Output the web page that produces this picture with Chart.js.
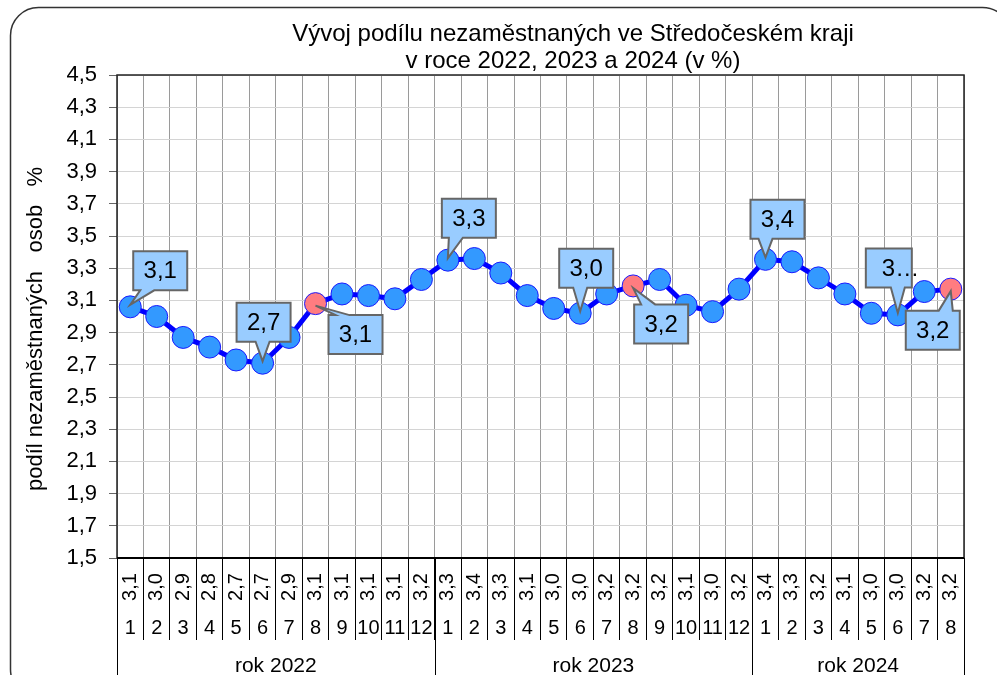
<!DOCTYPE html>
<html>
<head>
<meta charset="utf-8">
<script src="https://cdn.jsdelivr.net/npm/chart.js@4.4.1/dist/chart.umd.min.js"></script>
<style>
  html, body { margin: 0; padding: 0; background: #fff; overflow: hidden; }
  #wrap { position: relative; width: 997px; height: 675px; }
</style>
</head>
<body>
<div id="wrap"><canvas id="chart"></canvas></div>
<script>
// data
const months = ["1","2","3","4","5","6","7","8","9","10","11","12",
                "1","2","3","4","5","6","7","8","9","10","11","12",
                "1","2","3","4","5","6","7","8"];
const shares = [3.06, 3.00, 2.87, 2.81, 2.73, 2.71, 2.87, 3.08, 3.14, 3.13, 3.11, 3.23,
                3.35, 3.36, 3.27, 3.13, 3.05, 3.02, 3.14, 3.19, 3.23, 3.07, 3.03, 3.17,
                3.355, 3.34, 3.24, 3.14, 3.02, 3.01, 3.155, 3.17];
const tableVals = ["3,1","3,0","2,9","2,8","2,7","2,7","2,9","3,1","3,1","3,1","3,1","3,2",
                   "3,3","3,4","3,3","3,1","3,0","3,0","3,2","3,2","3,2","3,1","3,0","3,2",
                   "3,4","3,3","3,2","3,1","3,0","3,0","3,2","3,2"];
const yearLabels = ["rok 2022", "rok 2023", "rok 2024"];
const yearCounts = [12, 12, 8];
const highlighted = [7, 19, 31];
const calloutIdx = [0, 5, 7, 12, 17, 19, 24, 29, 31];
const calloutText = ["3,1", "2,7", "3,1", "3,3", "3,0", "3,2", "3,4", "3…", "3,2"];

const FONT = "'Liberation Sans', Arial, sans-serif";

// callout box offsets (box centre relative to the point) and widths
const calloutLayout = [
  {dx: 30, dy: -36}, {dx: 1, dy: -41}, {dx: 40, dy: 31},
  {dx: 21, dy: -42}, {dx: 6, dy: -45}, {dx: 28, dy: 38},
  {dx: 12, dy: -40}, {dx: -9, dy: -47, w: 46, left: true}, {dx: -18, dy: 41}
];

const pointColors = shares.map((v, i) => highlighted.includes(i) ? '#FF7C80' : '#3399FF');

const decor = {
  id: 'decor',
  beforeDraw(chart) {
    const ctx = chart.ctx;
    ctx.save();
    ctx.fillStyle = '#fff';
    ctx.fillRect(0, 0, chart.width, chart.height);
    ctx.strokeStyle = '#333';
    ctx.lineWidth = 1.5;
    ctx.beginPath();
    ctx.roundRect(10.5, 7.5, 1000, 690, 28);
    ctx.stroke();
    ctx.restore();
  },
  afterDraw(chart) {
    const ctx = chart.ctx;
    const a = chart.chartArea;
    const x = chart.scales.x;
    ctx.save();

    // title
    ctx.fillStyle = '#000';
    ctx.font = '24px ' + FONT;
    ctx.textAlign = 'center';
    ctx.textBaseline = 'alphabetic';
    ctx.fillText('Vývoj podílu nezaměstnaných ve Středočeském kraji', 573, 41);
    ctx.fillText('v roce 2022, 2023 a 2024 (v %)', 573, 68);

    // y axis title
    ctx.save();
    ctx.translate(36, 329);
    ctx.rotate(-Math.PI / 2);
    ctx.font = '22px ' + FONT;
    ctx.textBaseline = 'middle';
    ctx.fillText('podíl nezaměstnaných   osob   %', 0, 0);
    ctx.restore();

    // plot frame
    ctx.strokeStyle = '#222';
    ctx.lineWidth = 1.5;
    ctx.strokeRect(a.left, a.top, a.right - a.left, a.bottom - a.top);
    ctx.lineWidth = 2;
    ctx.strokeStyle = '#000';
    ctx.beginPath();
    ctx.moveTo(a.left, a.bottom);
    ctx.lineTo(a.right, a.bottom);
    ctx.stroke();

    // table under the axis
    ctx.fillStyle = '#000';
    months.forEach((m, i) => {
      const cx = x.getPixelForValue(i);
      ctx.save();
      ctx.translate(cx, 587);
      ctx.rotate(-Math.PI / 2);
      ctx.font = '20px ' + FONT;
      ctx.textAlign = 'center';
      ctx.textBaseline = 'middle';
      ctx.fillText(tableVals[i], 0, 0);
      ctx.restore();
      ctx.font = '20px ' + FONT;
      ctx.textAlign = 'center';
      ctx.textBaseline = 'middle';
      ctx.fillText(m, cx, 628);
    });
    const step = (a.right - a.left) / months.length;
    let start = 0;
    ctx.lineWidth = 1;
    ctx.strokeStyle = '#000';
    const bounds = [0];
    yearCounts.forEach((c, g) => {
      const x0 = a.left + start * step;
      const x1 = a.left + (start + c) * step;
      ctx.font = '21px ' + FONT;
      ctx.textAlign = 'center';
      ctx.textBaseline = 'alphabetic';
      ctx.fillText(yearLabels[g], (x0 + x1) / 2, 672);
      start += c;
      bounds.push(start);
    });
    bounds.forEach(b => {
      const bx = Math.round(a.left + b * step) + 0.5;
      ctx.beginPath();
      ctx.moveTo(bx, a.bottom);
      ctx.lineTo(bx, chart.height);
      ctx.stroke();
    });

    // callouts
    const meta = chart.getDatasetMeta(0);
    calloutIdx.forEach((idx, k) => {
      const pt = meta.data[idx];
      const lay = calloutLayout[k];
      const w = lay.w || 54, h = 39;
      const cx = pt.x + lay.dx, cy = pt.y + lay.dy;
      const L = cx - w / 2, R = cx + w / 2, T = cy - h / 2, B = cy + h / 2;
      const bx = Math.min(Math.max(pt.x, L + 14), R - 14);
      ctx.beginPath();
      if (cy < pt.y) {
        ctx.moveTo(L, T); ctx.lineTo(R, T); ctx.lineTo(R, B);
        ctx.lineTo(bx + 7, B); ctx.lineTo(pt.x, pt.y - 2); ctx.lineTo(bx - 7, B);
        ctx.lineTo(L, B);
      } else {
        ctx.moveTo(L, T); ctx.lineTo(bx - 7, T); ctx.lineTo(pt.x, pt.y + 2);
        ctx.lineTo(bx + 7, T); ctx.lineTo(R, T); ctx.lineTo(R, B); ctx.lineTo(L, B);
      }
      ctx.closePath();
      ctx.fillStyle = '#99CCFF';
      ctx.fill();
      ctx.strokeStyle = '#666';
      ctx.lineWidth = 2;
      ctx.stroke();
      ctx.fillStyle = '#000';
      ctx.font = '24px ' + FONT;
      ctx.textBaseline = 'middle';
      if (lay.left) {
        ctx.textAlign = 'left';
        ctx.fillText(calloutText[k], L + 16, cy + 1);
      } else {
        ctx.textAlign = 'center';
        ctx.fillText(calloutText[k], cx, cy + 1);
      }
    });
    ctx.restore();
  }
};

new Chart(document.getElementById('chart'), {
  type: 'line',
  data: {
    labels: months,
    datasets: [{
      data: shares,
      borderColor: '#0000FF',
      borderWidth: 5,
      tension: 0,
      pointRadius: 11,
      pointHoverRadius: 11,
      pointBackgroundColor: pointColors,
      pointBorderColor: '#1a1aff',
      pointBorderWidth: 1
    }]
  },
  options: {
    responsive: true,
    maintainAspectRatio: false,
    animation: false,
    layout: { padding: { top: 75, right: 33, left: 0, bottom: 0 } },
    plugins: {
      legend: { display: false },
      title: { display: false },
      tooltip: { enabled: false }
    },
    scales: {
      x: {
        offset: true,
        grid: { offset: true, color: '#9a9a9a', tickColor: '#000', tickLength: 82, lineWidth: 1 },
        border: { display: false },
        ticks: { display: false },
        afterFit: s => { s.height = 117; }
      },
      y: {
        min: 1.5,
        max: 4.5,
        ticks: {
          stepSize: 0.2,
          color: '#000',
          padding: 12,
          font: { family: FONT, size: 22 },
          callback: v => v.toFixed(1).replace('.', ',')
        },
        grid: { color: '#d4d4d4', tickColor: '#666', tickLength: 8 },
        border: { display: false },
        afterFit: s => { s.width = 117; }
      }
    }
  },
  plugins: [decor]
});
</script>
</body>
</html>
